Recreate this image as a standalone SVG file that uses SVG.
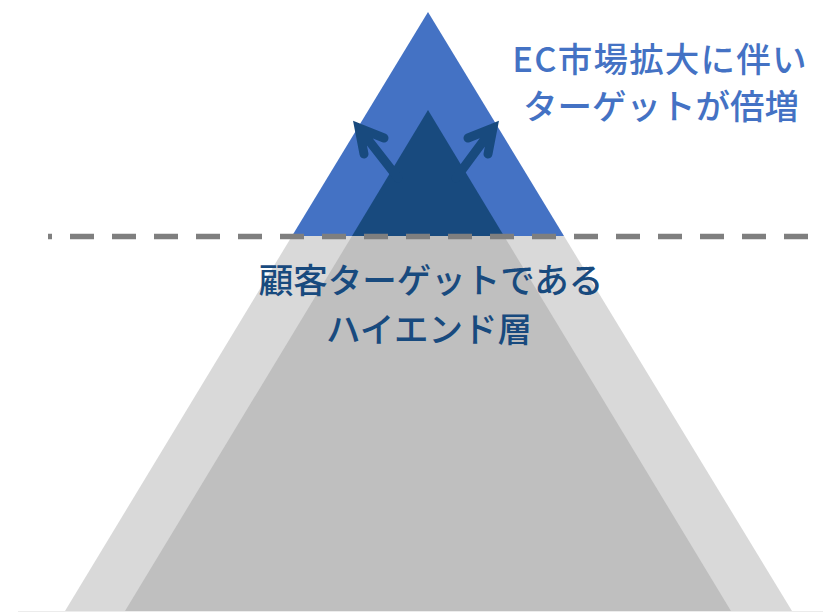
<svg xmlns="http://www.w3.org/2000/svg" width="823" height="612" viewBox="0 0 823 612">
<style>
.lbl{font-family:"Noto Sans CJK JP","Noto Sans",sans-serif;font-size:34.5px;font-weight:500;text-anchor:middle}
.arrow{fill:none;stroke:#184a7e;stroke-width:9;stroke-linecap:round;stroke-linejoin:miter;stroke-miterlimit:10}
</style>
<rect width="823" height="612" fill="#ffffff"/>
<g id="base">
<line x1="18" y1="611.5" x2="823" y2="611.5" stroke="#ececec" stroke-width="1"/>
<polygon id="outer-layer" points="292,236 564,236 792,611 65,611" fill="#d9d9d9"/>
<polygon id="inner-layer" points="352,236 504,236 731,611 125,611" fill="#bfbfbf"/>
</g>
<g id="ec-triangle"><polygon points="428,12 292,236 564,236" fill="#4472c4"/></g>
<g id="highend-triangle"><polygon points="428,110 352,236 504,236" fill="#184a7e"/></g>
<g id="connectors">
<path class="arrow" d="M398,178 L359,128 M384,138 L359,128 L364,154"/>
<path class="arrow" d="M456,178 L493,128 M468,138 L493,128 L488,154"/>
</g>
<g id="divider"><line x1="48" y1="236.5" x2="810" y2="236.5" stroke="#7f7f7f" stroke-width="5.5" stroke-dasharray="24 18" stroke-dashoffset="20"/></g>
<g id="label-ec">
<text class="lbl" x="660" y="72" fill="#4472c4" letter-spacing="1.2">EC市場拡大に伴い</text>
<text class="lbl" x="661" y="119" fill="#4472c4">ターゲットが倍増</text>
</g>
<g id="label-highend">
<text class="lbl" x="431" y="293" fill="#184a7e">顧客ターゲットである</text>
<text class="lbl" x="429" y="342" fill="#184a7e">ハイエンド層</text>
</g>
</svg>
